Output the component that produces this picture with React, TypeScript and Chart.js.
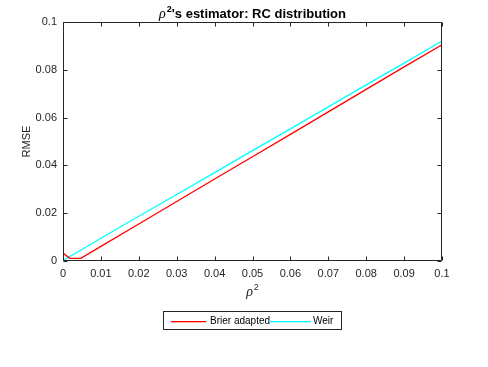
import React, { useEffect, useRef } from "react";
import { Chart, registerables } from "chart.js";

Chart.register(...registerables);

const rhoBrier = [0, 0.0018, 0.0047, 0.01, 0.02, 0.03, 0.04, 0.05, 0.06, 0.07, 0.08, 0.09, 0.1];
const rmseBrier = [0.0033, 0.0011, 0.0011, 0.0061, 0.0155, 0.0249, 0.0343, 0.0436, 0.053, 0.0624, 0.0718, 0.0812, 0.0905];
const rhoWeir = [0, 0.005, 0.01, 0.02, 0.03, 0.04, 0.05, 0.06, 0.07, 0.08, 0.09, 0.1];
const rmseWeir = [0.0002, 0.0048, 0.0095, 0.0187, 0.0278, 0.037, 0.0462, 0.0553, 0.0645, 0.0737, 0.0828, 0.092];
const seriesLabels = ["Brier adapted", "Weir"];
const seriesColors = ["#ff0000", "#00ffff"];
const xTicks = [0, 0.01, 0.02, 0.03, 0.04, 0.05, 0.06, 0.07, 0.08, 0.09, 0.1];
const xTickLabels = ["0", "0.01", "0.02", "0.03", "0.04", "0.05", "0.06", "0.07", "0.08", "0.09", "0.1"];
const yTicks = [0, 0.02, 0.04, 0.06, 0.08, 0.1];
const yTickLabels = ["0", "0.02", "0.04", "0.06", "0.08", "0.1"];

const AX = "#262626";
const SANS = "'Liberation Sans', Arial, Helvetica, sans-serif";
const SERIF = "'Liberation Serif', 'Times New Roman', serif";

const decor = {
  id: "decor",
  afterDraw(chart: any) {
    const ctx = chart.ctx;
    const a = chart.chartArea;
    const xs = chart.scales.x;
    const ys = chart.scales.y;
    ctx.save();
    ctx.setLineDash([]);
    ctx.globalAlpha = 1;
    ctx.strokeStyle = AX;
    ctx.lineWidth = 1;
    const L = Math.round(a.left) + 0.5;
    const R = Math.round(a.right) - 0.5;
    const T = Math.round(a.top) + 0.5;
    const B = Math.round(a.bottom) - 0.5;
    ctx.beginPath();
    ctx.rect(L, T, R - L, B - T);
    for (const v of xTicks) {
      const px = Math.round(xs.getPixelForValue(v)) + 0.5;
      ctx.moveTo(px, B);
      ctx.lineTo(px, B - 4);
      ctx.moveTo(px, T);
      ctx.lineTo(px, T + 4);
    }
    for (const v of yTicks) {
      const py = Math.round(ys.getPixelForValue(v)) + 0.5;
      ctx.moveTo(L, py);
      ctx.lineTo(L + 4, py);
      ctx.moveTo(R, py);
      ctx.lineTo(R - 4, py);
    }
    ctx.stroke();

    // Title
    ctx.fillStyle = "#000";
    ctx.textBaseline = "alphabetic";
    ctx.textAlign = "left";
    const cx = (a.left + a.right) / 2;
    const fRho = "italic 14px " + SERIF;
    const fSup = "bold 9px " + SANS;
    const fMain = "bold 13px " + SANS;
    const rest = "'s estimator: RC distribution";
    ctx.font = fRho;
    const w1 = ctx.measureText("ρ").width;
    ctx.font = fSup;
    const w2 = ctx.measureText("2").width;
    ctx.font = fMain;
    const w3 = ctx.measureText(rest).width;
    let tx = cx - (w1 + w2 + w3 + 1) / 2;
    const ty = 18;
    ctx.font = fRho;
    ctx.fillText("ρ", tx, ty);
    tx += w1 + 1;
    ctx.font = fSup;
    ctx.fillText("2", tx, ty - 6);
    tx += w2;
    ctx.font = fMain;
    ctx.fillText(rest, tx, ty);

    // X label
    ctx.fillStyle = AX;
    const fxRho = "italic 14px " + SERIF;
    const fxSup = "9px " + SANS;
    ctx.font = fxRho;
    const xw1 = ctx.measureText("ρ").width;
    ctx.font = fxSup;
    const xw2 = ctx.measureText("2").width;
    const lx = cx - (xw1 + xw2 + 1) / 2;
    ctx.font = fxRho;
    ctx.fillText("ρ", lx, 296);
    ctx.font = fxSup;
    ctx.fillText("2", lx + xw1 + 1, 290);

    // Y label
    ctx.save();
    ctx.translate(30, (a.top + a.bottom) / 2);
    ctx.rotate(-Math.PI / 2);
    ctx.textAlign = "center";
    ctx.font = "11px " + SANS;
    ctx.fillText("RMSE", 0, 0);
    ctx.restore();

    // Legend
    const bx = 163.5, by = 311.5, bw = 178, bh = 18;
    ctx.fillStyle = "#fff";
    ctx.fillRect(bx, by, bw, bh);
    ctx.strokeStyle = AX;
    ctx.lineWidth = 1;
    ctx.strokeRect(bx, by, bw, bh);
    ctx.font = "10px " + SANS;
    ctx.textBaseline = "middle";
    ctx.textAlign = "left";
    const ly = by + bh / 2;
    const items = [
      { x0: 171, x1: 206, tx: 210 },
      { x0: 269, x1: 311, tx: 313 },
    ];
    for (let i = 0; i < seriesLabels.length; i++) {
      const it = items[i];
      ctx.fillStyle = seriesColors[i];
      ctx.fillRect(it.x0, Math.round(ly), it.x1 - it.x0, 1.3);
      ctx.fillStyle = "#000";
      ctx.fillText(seriesLabels[i], it.tx, ly + 0.5);
    }
    ctx.restore();
  },
};

export default function App() {
  const ref = useRef<HTMLCanvasElement | null>(null);
  useEffect(() => {
    if (!ref.current) return;
    const chart = new Chart(ref.current, {
      type: "line",
      data: {
        datasets: [
          {
            label: seriesLabels[0],
            data: rhoBrier.map((x, i) => ({ x, y: rmseBrier[i] })),
            borderColor: seriesColors[0],
            backgroundColor: seriesColors[0],
            borderWidth: 1.3,
            pointRadius: 0,
            tension: 0,
          },
          {
            label: seriesLabels[1],
            data: rhoWeir.map((x, i) => ({ x, y: rmseWeir[i] })),
            borderColor: seriesColors[1],
            backgroundColor: seriesColors[1],
            borderWidth: 1.3,
            pointRadius: 0,
            tension: 0,
          },
        ],
      },
      options: {
        responsive: false,
        animation: false,
        devicePixelRatio: 1,
        layout: { padding: { top: 22, right: 46, left: 0, bottom: 0 } },
        plugins: { legend: { display: false }, title: { display: false }, tooltip: { enabled: false } },
        scales: {
          x: {
            type: "linear",
            min: 0,
            max: 0.1,
            grid: { display: false, drawTicks: false },
            border: { display: false },
            afterBuildTicks: (s: any) => {
              s.ticks = xTicks.map((v) => ({ value: v }));
            },
            afterFit: (s: any) => {
              s.height = 106;
            },
            ticks: {
              padding: 6,
              color: AX,
              font: { family: SANS, size: 11 },
              maxRotation: 0,
              autoSkip: false,
              callback: (v: any) => {
                const i = xTicks.findIndex((t) => Math.abs(t - v) < 1e-9);
                return i >= 0 ? xTickLabels[i] : "";
              },
            },
          },
          y: {
            type: "linear",
            min: 0,
            max: 0.1,
            grid: { display: false, drawTicks: false },
            border: { display: false },
            afterBuildTicks: (s: any) => {
              s.ticks = yTicks.map((v) => ({ value: v }));
            },
            afterFit: (s: any) => {
              s.width = 63;
            },
            ticks: {
              padding: 6,
              color: AX,
              font: { family: SANS, size: 11 },
              autoSkip: false,
              callback: (v: any) => {
                const i = yTicks.findIndex((t) => Math.abs(t - v) < 1e-9);
                return i >= 0 ? yTickLabels[i] : "";
              },
            },
          },
        },
      },
      plugins: [decor],
    } as any);
    return () => chart.destroy();
  }, []);
  return (
    <div style={{ position: "fixed", left: 0, top: 0, width: 488, height: 367, background: "#fff" }}>
      <canvas ref={ref} width={488} height={367} style={{ width: 488, height: 367, display: "block" }} />
    </div>
  );
}
